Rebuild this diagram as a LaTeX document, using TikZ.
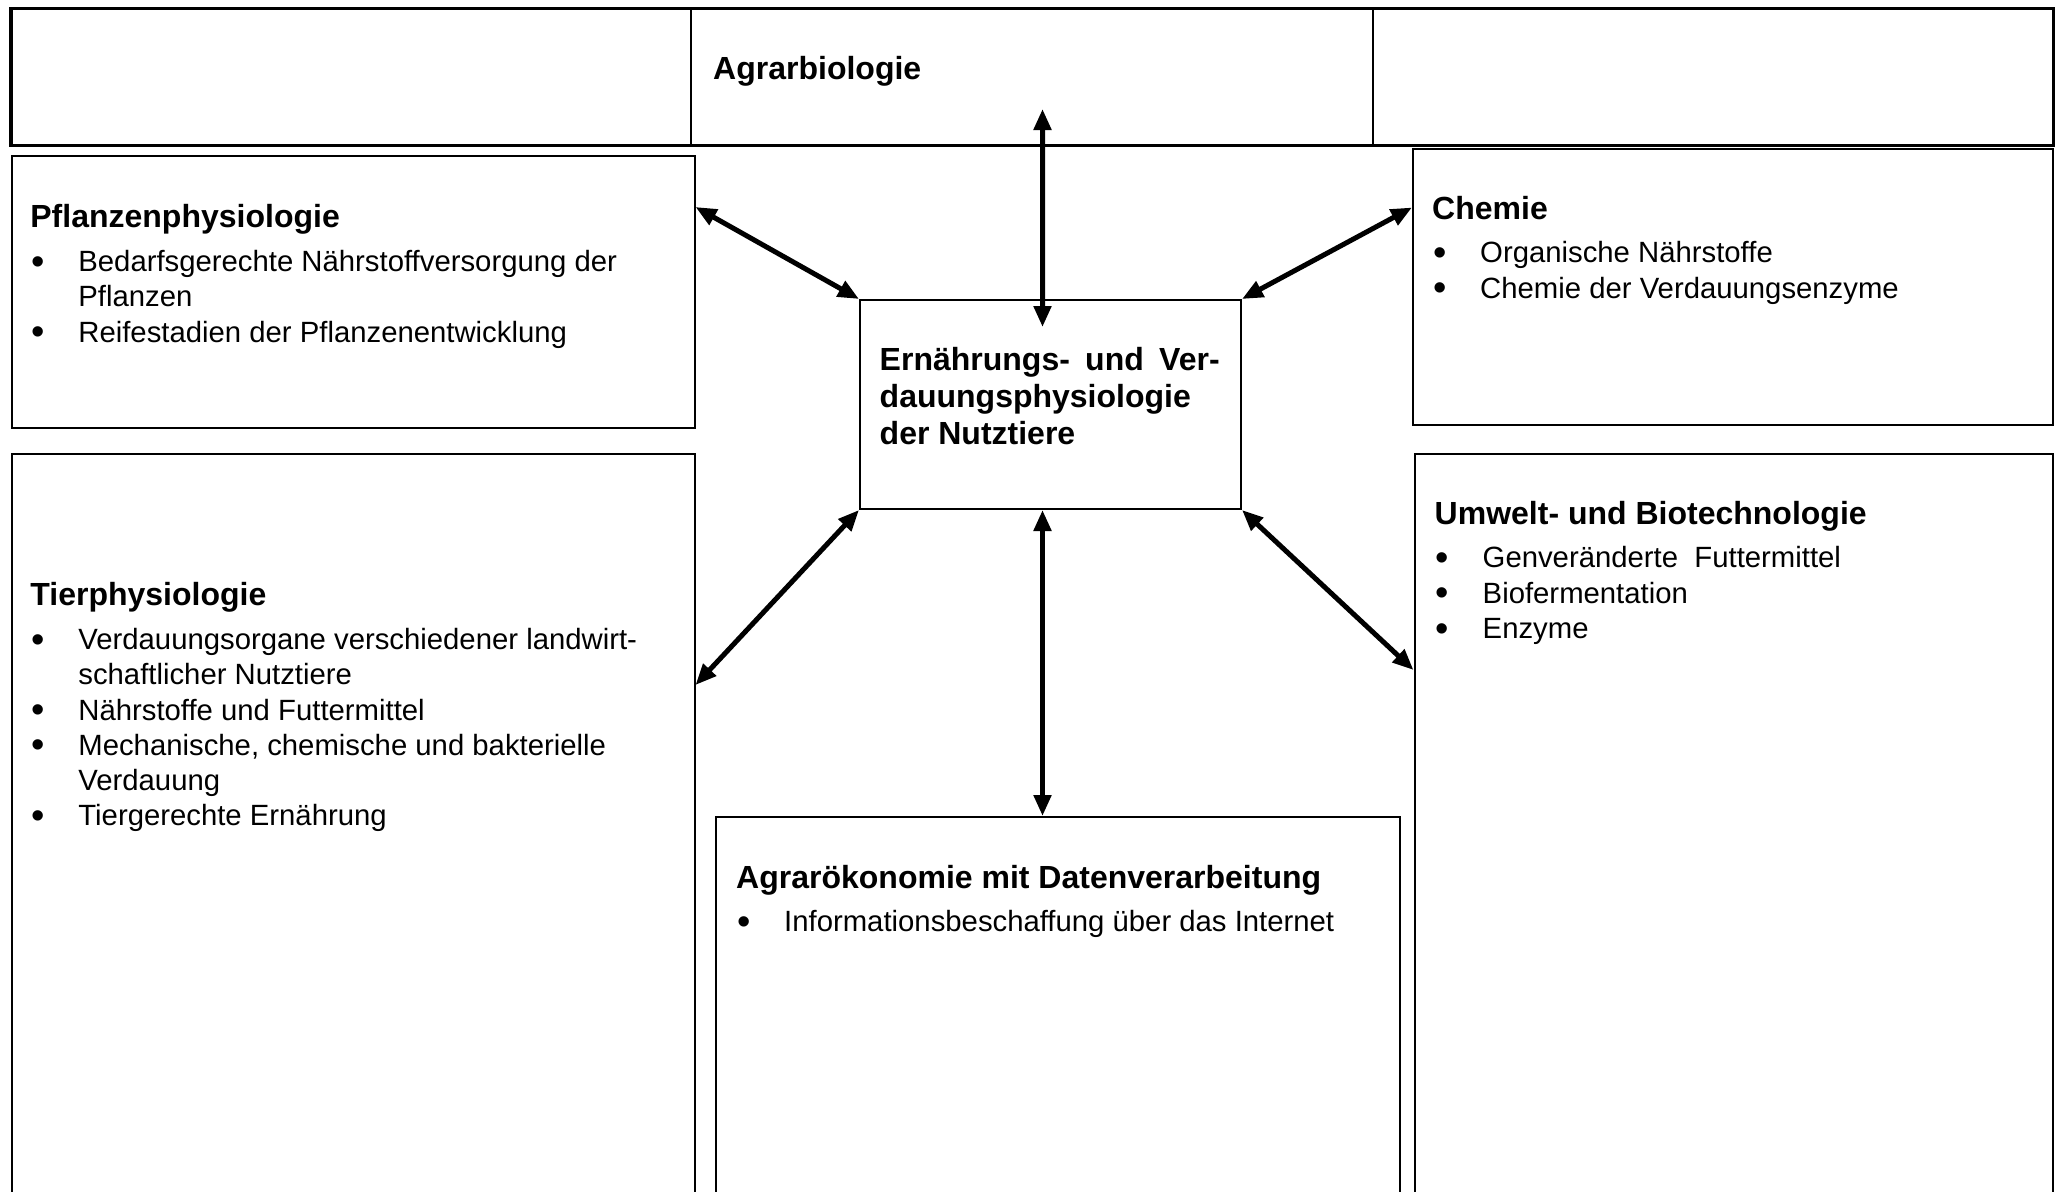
\documentclass[tikz,border=0pt]{standalone}
\usepackage{fontspec}
\usepackage{graphicx}
\setmainfont{Liberation Sans}
\usetikzlibrary{arrows.meta}

% type sizes (word spaces taken from the font itself)
\newcommand\bodysize{\fontsize{29.3}{35.3}\selectfont\spaceskip=0pt\xspaceskip=0pt\relax}
\newcommand\headsize{\fontsize{32}{37}\selectfont\bfseries\spaceskip=0pt\xspaceskip=0pt\relax}
% one bulleted entry with hanging indent
\newcommand\bitem[1]{\par\hangindent=48pt\hangafter=1\noindent
  \makebox[48pt][l]{\hspace{1pt}\raisebox{-2.6pt}{\scalebox{1.3}{•}}}#1}
% heading followed by its list
\newcommand\headlist[2]{{\headsize #1\par}\vspace{8.5pt}\bodysize #2\par}

\tikzset{
  box/.style={draw, line width=2pt, rectangle, inner sep=0pt, anchor=north west},
  cell/.style={draw, line width=2pt, rectangle, inner sep=0pt, anchor=north west,
               minimum height=136pt},
  content/.style={anchor=base west, inner sep=0pt, text width=#1, align=left},
  link/.style={line width=5pt,
               {Triangle[length=21pt,width=17pt]}-{Triangle[length=21pt,width=17pt]}},
}

\begin{document}
\begin{tikzpicture}[x=1pt, y=-1pt]
  \clip (0,0) rectangle (2058,1191);
  \fill[white] (0,0) rectangle (2058,1191);

  % top row of three cells
  \node[cell, minimum width=679.9pt] (top1) at (10.5,8) {};
  \node[cell, minimum width=681.2pt] (top2) at (690.4,8) {};
  \node[cell, minimum width=679.9pt] (top3) at (1371.6,8) {};
  \draw[line width=2.5pt] (top1.north west) rectangle (top3.south east);
  \node[content=600pt] (agrarbio) at ([shift={(22.6,71.5)}]top2.north west)
    {\headsize Agrarbiologie\par};

  % subject boxes
  \node[box, minimum width=683pt, minimum height=272pt] (pflanz) at (10.5,155) {};
  \node[box, minimum width=639.5pt, minimum height=276pt] (chemie) at (1412,147.5) {};
  \node[box, minimum width=381pt, minimum height=209pt] (center) at (859,299) {};
  \node[box, minimum width=683pt, minimum height=800pt] (tier) at (10.5,453) {};
  \node[box, minimum width=684pt, minimum height=450pt] (agrar) at (714.5,816) {};
  \node[box, minimum width=638pt, minimum height=800pt] (umwelt) at (1413.5,453) {};

  % box contents
  \node[content=650pt] (pflanztext) at ([shift={(19.7,72.6)}]pflanz.north west)
    {\headlist{Pflanzenphysiologie}{%
      \bitem{Bedarfsgerechte Nährstoffversorgung der\newline Pflanzen}%
      \bitem{Reifestadien der Pflanzenentwicklung}}};

  \node[content=600pt] (chemietext) at ([shift={(20,71.5)}]chemie.north west)
    {\headlist{Chemie}{%
      \bitem{Organische Nährstoffe}%
      \bitem{Chemie der Verdauungsenzyme}}};

  \node[content=600pt] (umwelttext) at ([shift={(21,71)}]umwelt.north west)
    {\headlist{Umwelt- und Biotechnologie}{%
      \bitem{Genveränderte\ \ Futtermittel}%
      \bitem{Biofermentation}%
      \bitem{Enzyme}}};

  \node[content=650pt] (tiertext) at ([shift={(19.7,152.6)}]tier.north west)
    {\headlist{Tierphysiologie}{%
      \bitem{Verdauungsorgane verschiedener landwirt-\newline schaftlicher Nutztiere}%
      \bitem{Nährstoffe und Futtermittel}%
      \bitem{Mechanische, chemische und bakterielle\newline Verdauung}%
      \bitem{Tiergerechte Ernährung}}};

  \node[content=650pt] (agrartext) at ([shift={(21.5,72)}]agrar.north west)
    {\headlist{Agrarökonomie mit Datenverarbeitung}{%
      \bitem{Informationsbeschaffung über das Internet}}};

  \node[content=340pt] (centertext) at ([shift={(20.5,71)}]center.north west)
    {\fontsize{32}{37.3}\selectfont\bfseries\spaceskip=0pt\xspaceskip=0pt\relax
     \makebox[340pt][s]{Ernährungs- und Ver-}\par\noindent
     dauungsphysiologie\par\noindent der Nutztiere\par};

  % connections to the central box
  \draw[link] ([shift={(10.5,-37)}]top2.south) -- ([shift={(-8,28)}]center.north);
  \draw[link] ([shift={(0,52)}]pflanz.north east) -- (center.north west);
  \draw[link] (center.north east) -- ([shift={(0,60)}]chemie.north west);
  \draw[link] ([shift={(0,232)}]tier.north east) -- (center.south west);
  \draw[link] (center.south east) -- ([shift={(0,217)}]umwelt.north west);
  \draw[link] ([shift={(-8,0)}]center.south) -- ([shift={(-15,0)}]agrar.north);
\end{tikzpicture}
\end{document}
